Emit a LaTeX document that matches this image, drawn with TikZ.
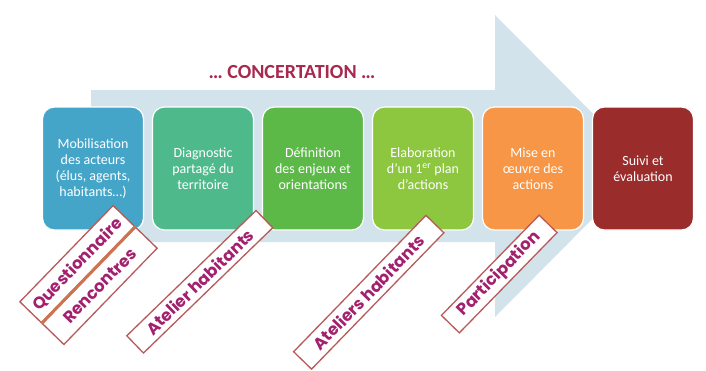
\documentclass[tikz,border=0pt]{standalone}
\usepackage{fontspec}
\setmainfont{Carlito}
\newfontfamily\labfont{Poppins}
\definecolor{arrowc}{RGB}{211,227,236}
\definecolor{cA}{RGB}{69,165,200}
\definecolor{cB}{RGB}{78,186,140}
\definecolor{cC}{RGB}{92,184,71}
\definecolor{cD}{RGB}{141,198,63}
\definecolor{cE}{RGB}{247,150,70}
\definecolor{cF}{RGB}{155,44,44}
\definecolor{conc}{RGB}{168,40,80}
\definecolor{labtext}{RGB}{163,32,110}
\definecolor{labborder}{RGB}{183,90,90}
\definecolor{sepc}{RGB}{205,115,80}
\begin{document}
\begin{tikzpicture}[x=1pt,y=-1pt,
  stage/.style={rounded corners=12pt, draw=white, line width=1.2pt,
    minimum width=101pt, minimum height=123pt, text=white, align=center,
    font=\fontsize{14}{16}\selectfont, inner sep=2pt},
  lab/.style={draw=labborder, line width=1.3pt, fill=white, text=labtext,
    font=\labfont\bfseries\fontsize{16.5}{16.5}\selectfont, inner sep=0pt, sloped}]
\useasboundingbox (0,0) rectangle (706,370);
\fill[white] (0,0) rectangle (706,370);
\fill[arrowc] (91,90) -- (495,90) -- (495,15) -- (645,166) -- (495,317)
  -- (495,242) -- (91,242) -- cycle;
\node[font=\bfseries\fontsize{20}{20}\selectfont, text=conc] (conc) at (292,72) {… CONCERTATION …};
\node[stage, fill=cA] (s1) at (93,168.5) {Mobilisation\\des acteurs\\(élus, agents,\\habitants…)};
\node[stage, fill=cB] (s2) at (203,168.5) {Diagnostic\\partagé du\\territoire};
\node[stage, fill=cC] (s3) at (313,168.5) {Définition\\des enjeux et\\orientations};
\node[stage, fill=cD] (s4) at (423,168.5) {Elaboration\\d’un 1\textsuperscript{er} plan\\d’actions};
\node[stage, fill=cE] (s5) at (533,168.5) {Mise en\\œuvre des\\actions};
\node[stage, fill=cF] (s6) at (643,168.5) {Suivi et\\évaluation};
% label axes
\coordinate (qa) at (42,323);   \coordinate (qb) at (135,227);
\coordinate (ha) at (135,344.5); \coordinate (hb) at (264.5,219);
\coordinate (ia) at (302.5,360.5); \coordinate (ib) at (435,224);
\coordinate (pa) at (450.5,324); \coordinate (pb) at (548,224);
\path (qa) -- (qb) node[lab, midway, minimum width=134pt, minimum height=30pt, anchor=south] (q) {Questionnaire};
\path (qa) -- (qb) node[lab, midway, minimum width=134pt, minimum height=30pt, anchor=north] (r) {Rencontres};
\draw[sepc, line width=3pt] (q.south west) -- (q.south east);
\path (ha) -- (hb) node[lab, midway, minimum width=180pt, minimum height=24pt] (a1) {Atelier habitants};
\path (ia) -- (ib) node[lab, midway, minimum width=190pt, minimum height=25pt] (a2) {Ateliers habitants};
\path (pa) -- (pb) node[lab, midway, minimum width=140pt, minimum height=25pt] (p) {Participation};
\end{tikzpicture}
\end{document}
